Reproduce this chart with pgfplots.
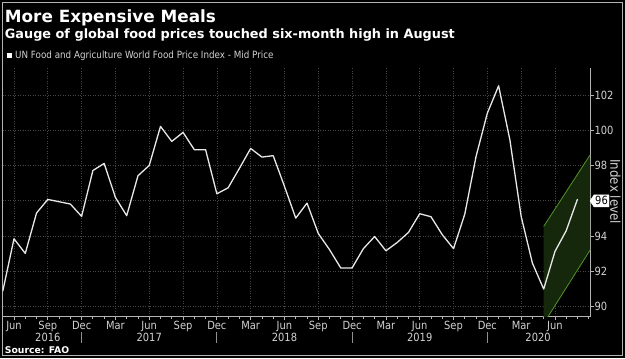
\documentclass[border=0pt]{standalone}
\usepackage{fontspec}
\setmainfont{DejaVu Sans}[FakeStretch=0.88]
\newfontfamily\tfont{DejaVu Sans}
\usepackage{pgfplots}
\pgfplotsset{compat=1.18}
\definecolor{gridc}{RGB}{70,70,70}
\definecolor{lbl}{RGB}{210,210,210}
\definecolor{axc}{RGB}{180,180,180}
\definecolor{bandfill}{RGB}{22,40,12}
\definecolor{bandline}{RGB}{82,148,40}
\definecolor{linec}{RGB}{232,232,232}
\pgfplotstableread{
m v
-1 90.87
0 93.85
1 93.02
2 95.31
3 96.08
4 95.95
5 95.82
6 95.12
7 97.72
8 98.12
9 96.19
10 95.16
11 97.42
12 98.01
13 100.22
14 99.37
15 99.88
16 98.90
17 98.90
18 96.40
19 96.74
20 97.84
21 98.97
22 98.48
23 98.56
24 96.82
25 95.02
26 95.87
27 94.15
28 93.23
29 92.19
30 92.20
31 93.29
32 93.98
33 93.17
34 93.64
35 94.21
36 95.27
37 95.10
38 94.08
39 93.29
40 95.25
41 98.52
42 100.97
43 102.52
44 99.46
45 95.12
46 92.47
47 91.00
48 93.13
49 94.31
50 96.10
}\fpi
\begin{document}
\begin{tikzpicture}[x=1bp,y=1bp]
\fill[black] (0,0) rectangle (625,358);
\node[rotate=-90, text=lbl, font=\fontsize{13.5}{15}\selectfont] at (615.5,166.3) {Index level};
\draw[axc, line width=1.2bp] (2.2,2.2) rectangle (622.8,355.2);
\node[anchor=base west, inner sep=0, text=white, font=\tfont\bfseries\fontsize{16.9}{18}\selectfont] at (4.7,335.3) {More Expensive Meals};
\node[anchor=base west, inner sep=0, text=white, font=\tfont\bfseries\fontsize{12.9}{14}\selectfont] at (4.7,319.7) {Gauge of global food prices touched six-month high in August};
\fill[white] (7.3,300) rectangle (12,304.7);
\node[anchor=base west, inner sep=0, text=lbl, font=\fontsize{10}{11}\selectfont] at (15,299.3) {UN Food and Agriculture World Food Price Index - Mid Price};
\node[anchor=base west, inner sep=0, text=white, font=\tfont\bfseries\fontsize{9.3}{10}\selectfont] at (4.7,4.7) {Source: FAO};
\begin{axis}[
  at={(2.5bp,41.3bp)}, anchor=south west, scale only axis,
  width=587.5bp, height=248.7bp,
  xmin=-1.02, xmax=51.11, ymin=89.433, ymax=103.53,
  axis x line*=bottom, axis y line*=right,
  axis line style={draw=axc, line width=0.8bp},
  xtick={0,3,...,48},
  xticklabels={Jun,Sep,Dec,Mar,Jun,Sep,Dec,Mar,Jun,Sep,Dec,Mar,Jun,Sep,Dec,Mar,Jun},
  minor xtick={-1,0,...,51},
  ytick={90,92,...,102},
  yticklabels={90,92,94,,98,100,102},
  /pgf/number format/assume math mode=true,
  tick align=outside, major tick length=3.5bp, minor tick length=2.5bp,
  tick style={axc, line width=0.8bp},
  xmajorgrids, ymajorgrids,
  major grid style={gridc, dash pattern=on 1bp off 1.5bp, line width=0.7bp},
  ticklabel style={text=lbl, font=\fontsize{11.3}{12}\selectfont},
  xticklabel style={anchor=base, yshift=-9.2bp},
  yticklabel style={anchor=west, inner sep=0.8bp},
  clip mode=individual,
]
\addplot[draw=none, fill=bandfill] coordinates {(47,94.55) (51.11,98.6) (51.11,93.2) (47,89.05)} -- cycle;
\addplot[bandline, line width=0.8bp] coordinates {(47,94.55) (51.11,98.6)};
\addplot[bandline, line width=0.8bp] coordinates {(47,89.05) (51.11,93.2)};
\addplot[linec, line width=1.3bp, line join=round] table[x=m, y=v] {\fpi};
\coordinate (y2016) at (axis cs:3,89.433);
\coordinate (y2017) at (axis cs:12,89.433);
\coordinate (y2018) at (axis cs:24,89.433);
\coordinate (y2019) at (axis cs:36,89.433);
\coordinate (y2020) at (axis cs:46.5,89.433);
\coordinate (s6) at (axis cs:6,89.433);
\coordinate (s18) at (axis cs:18,89.433);
\coordinate (s30) at (axis cs:30,89.433);
\coordinate (s42) at (axis cs:42,89.433);
\coordinate (c96) at (axis cs:51.11,96);
\end{axis}
\foreach \yr in {2016,2017,2018,2019,2020} {
  \node[anchor=base, text=lbl, font=\fontsize{11.3}{12}\selectfont, yshift=-25bp] at (y\yr) {\yr};
}
\foreach \s in {6,18,30,42} {
  \draw[axc!80!black, line width=0.8bp] ([yshift=-15bp]s\s) -- ([yshift=-26.6bp]s\s);
}
\draw[fill=white, draw=white] (c96) -- ([xshift=4bp,yshift=6bp]c96) -- ([xshift=19bp,yshift=6bp]c96) -- ([xshift=19bp,yshift=-6bp]c96) -- ([xshift=4bp,yshift=-6bp]c96) -- cycle;
\node[text=black, xshift=11.5bp, font=\fontsize{11.3}{12}\selectfont] at (c96) {96};
\end{tikzpicture}
\end{document}
